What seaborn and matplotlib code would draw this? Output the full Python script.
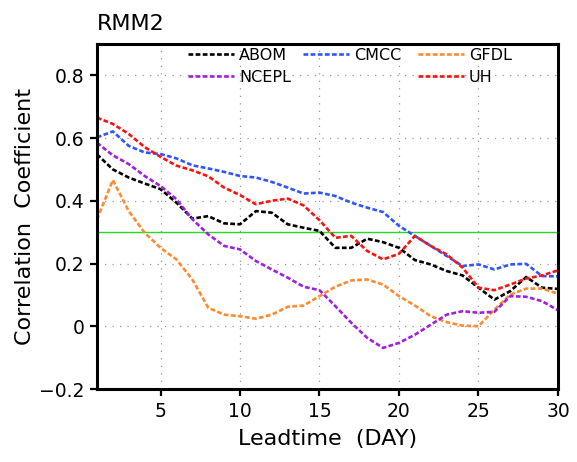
import numpy as np
import pandas as pd
import seaborn as sns
import matplotlib
matplotlib.use("Agg")
import matplotlib.pyplot as plt
from matplotlib.lines import Line2D

# --- DATA ---
days = list(range(1, 31))
models = ["ABOM", "CMCC", "GFDL", "NCEPL", "UH"]
colors = ["black", "#2f55ff", "#ff8a2f", "#a020e0", "#ff1010"]

abom = [0.548, 0.500, 0.474, 0.455, 0.437, 0.394, 0.343, 0.351, 0.328, 0.325,
        0.367, 0.362, 0.325, 0.314, 0.304, 0.250, 0.250, 0.279, 0.268, 0.250,
        0.211, 0.197, 0.176, 0.162, 0.123, 0.085, 0.112, 0.157, 0.123, 0.119]
cmcc = [0.602, 0.621, 0.575, 0.554, 0.549, 0.535, 0.513, 0.503, 0.492, 0.479,
        0.474, 0.460, 0.442, 0.423, 0.426, 0.415, 0.394, 0.378, 0.364, 0.320,
        0.288, 0.256, 0.224, 0.192, 0.197, 0.181, 0.197, 0.199, 0.160, 0.159]
gfdl = [0.340, 0.466, 0.367, 0.298, 0.250, 0.213, 0.149, 0.059, 0.037, 0.032,
        0.024, 0.037, 0.062, 0.066, 0.096, 0.126, 0.146, 0.149, 0.133, 0.096,
        0.066, 0.032, 0.013, 0.002, 0.000, 0.053, 0.101, 0.120, 0.120, 0.104]
ncepl = [0.585, 0.545, 0.517, 0.479, 0.447, 0.405, 0.341, 0.293, 0.256, 0.245,
         0.208, 0.181, 0.155, 0.126, 0.115, 0.064, 0.011, -0.037, -0.069, -0.053,
         -0.027, 0.005, 0.037, 0.048, 0.043, 0.046, 0.096, 0.094, 0.080, 0.051]
uh = [0.665, 0.645, 0.613, 0.571, 0.540, 0.512, 0.497, 0.478, 0.442, 0.418,
      0.389, 0.400, 0.407, 0.385, 0.338, 0.282, 0.288, 0.240, 0.213, 0.231,
      0.288, 0.256, 0.229, 0.187, 0.123, 0.115, 0.133, 0.152, 0.162, 0.178]
threshold = 0.3

series = {"ABOM": abom, "CMCC": cmcc, "GFDL": gfdl, "NCEPL": ncepl, "UH": uh}
df = pd.DataFrame([(m, d, v) for m in models for d, v in zip(days, series[m])],
                  columns=["model", "day", "corr"])

sns.set_style("white")
plt.rcParams["font.family"] = ["DejaVu Sans"]
plt.rcParams["text.color"] = "black"
plt.rcParams["axes.labelcolor"] = "black"
plt.rcParams["xtick.color"] = "black"
plt.rcParams["ytick.color"] = "black"

LW = 1.9
DASH = (0, (1.8, 0.9))

fig = plt.figure(figsize=(5.77, 4.62), dpi=100)
ax = fig.add_axes([0.168, 0.158, 0.799, 0.747])

sns.lineplot(data=df, x="day", y="corr", hue="model", hue_order=models,
             palette=dict(zip(models, colors)), ax=ax, legend=False,
             linewidth=LW, linestyle=DASH)
ax.axhline(threshold, color="#22dd22", lw=1.0, zorder=1)

ax.set_xlim(1, 30)
ax.set_ylim(-0.2, 0.9)
ax.set_xticks([5, 10, 15, 20, 25, 30])
ax.set_yticks([-0.2, 0, 0.2, 0.4, 0.6, 0.8])
ax.set_yticklabels(["\u22120.2", "0", "0.2", "0.4", "0.6", "0.8"])
ax.grid(True, color="#999999", lw=0.9, linestyle=(0, (1, 5)))
ax.tick_params(direction="out", length=5, width=1.6, labelsize=13.5,
               left=True, bottom=True, pad=4)
for s in ax.spines.values():
    s.set_linewidth(2.2)
    s.set_color("black")

ax.set_xlabel("Leadtime  (DAY)", fontsize=16, labelpad=6)
ax.set_ylabel("Correlation  Coefficient", fontsize=16, labelpad=3)
ax.set_title("RMM2", loc="left", fontsize=16, pad=10)

# legend: one small legend per entry so the 3-column grid matches
W, H = 577.0, 462.0
legend_spots = {"ABOM": (188, 55), "CMCC": (303, 55), "GFDL": (418, 55),
                "NCEPL": (188, 77), "UH": (418, 77)}
for m, c in zip(models, colors):
    px, py = legend_spots[m]
    hnd = Line2D([], [], color=c, lw=LW, linestyle=DASH)
    fig.legend([hnd], [m], loc="center left", bbox_to_anchor=(px / W, 1 - py / H),
               frameon=False, fontsize=11.5, handlelength=2.85, handletextpad=0.35,
               borderpad=0, borderaxespad=0)

fig.savefig("out.png", dpi=100)
